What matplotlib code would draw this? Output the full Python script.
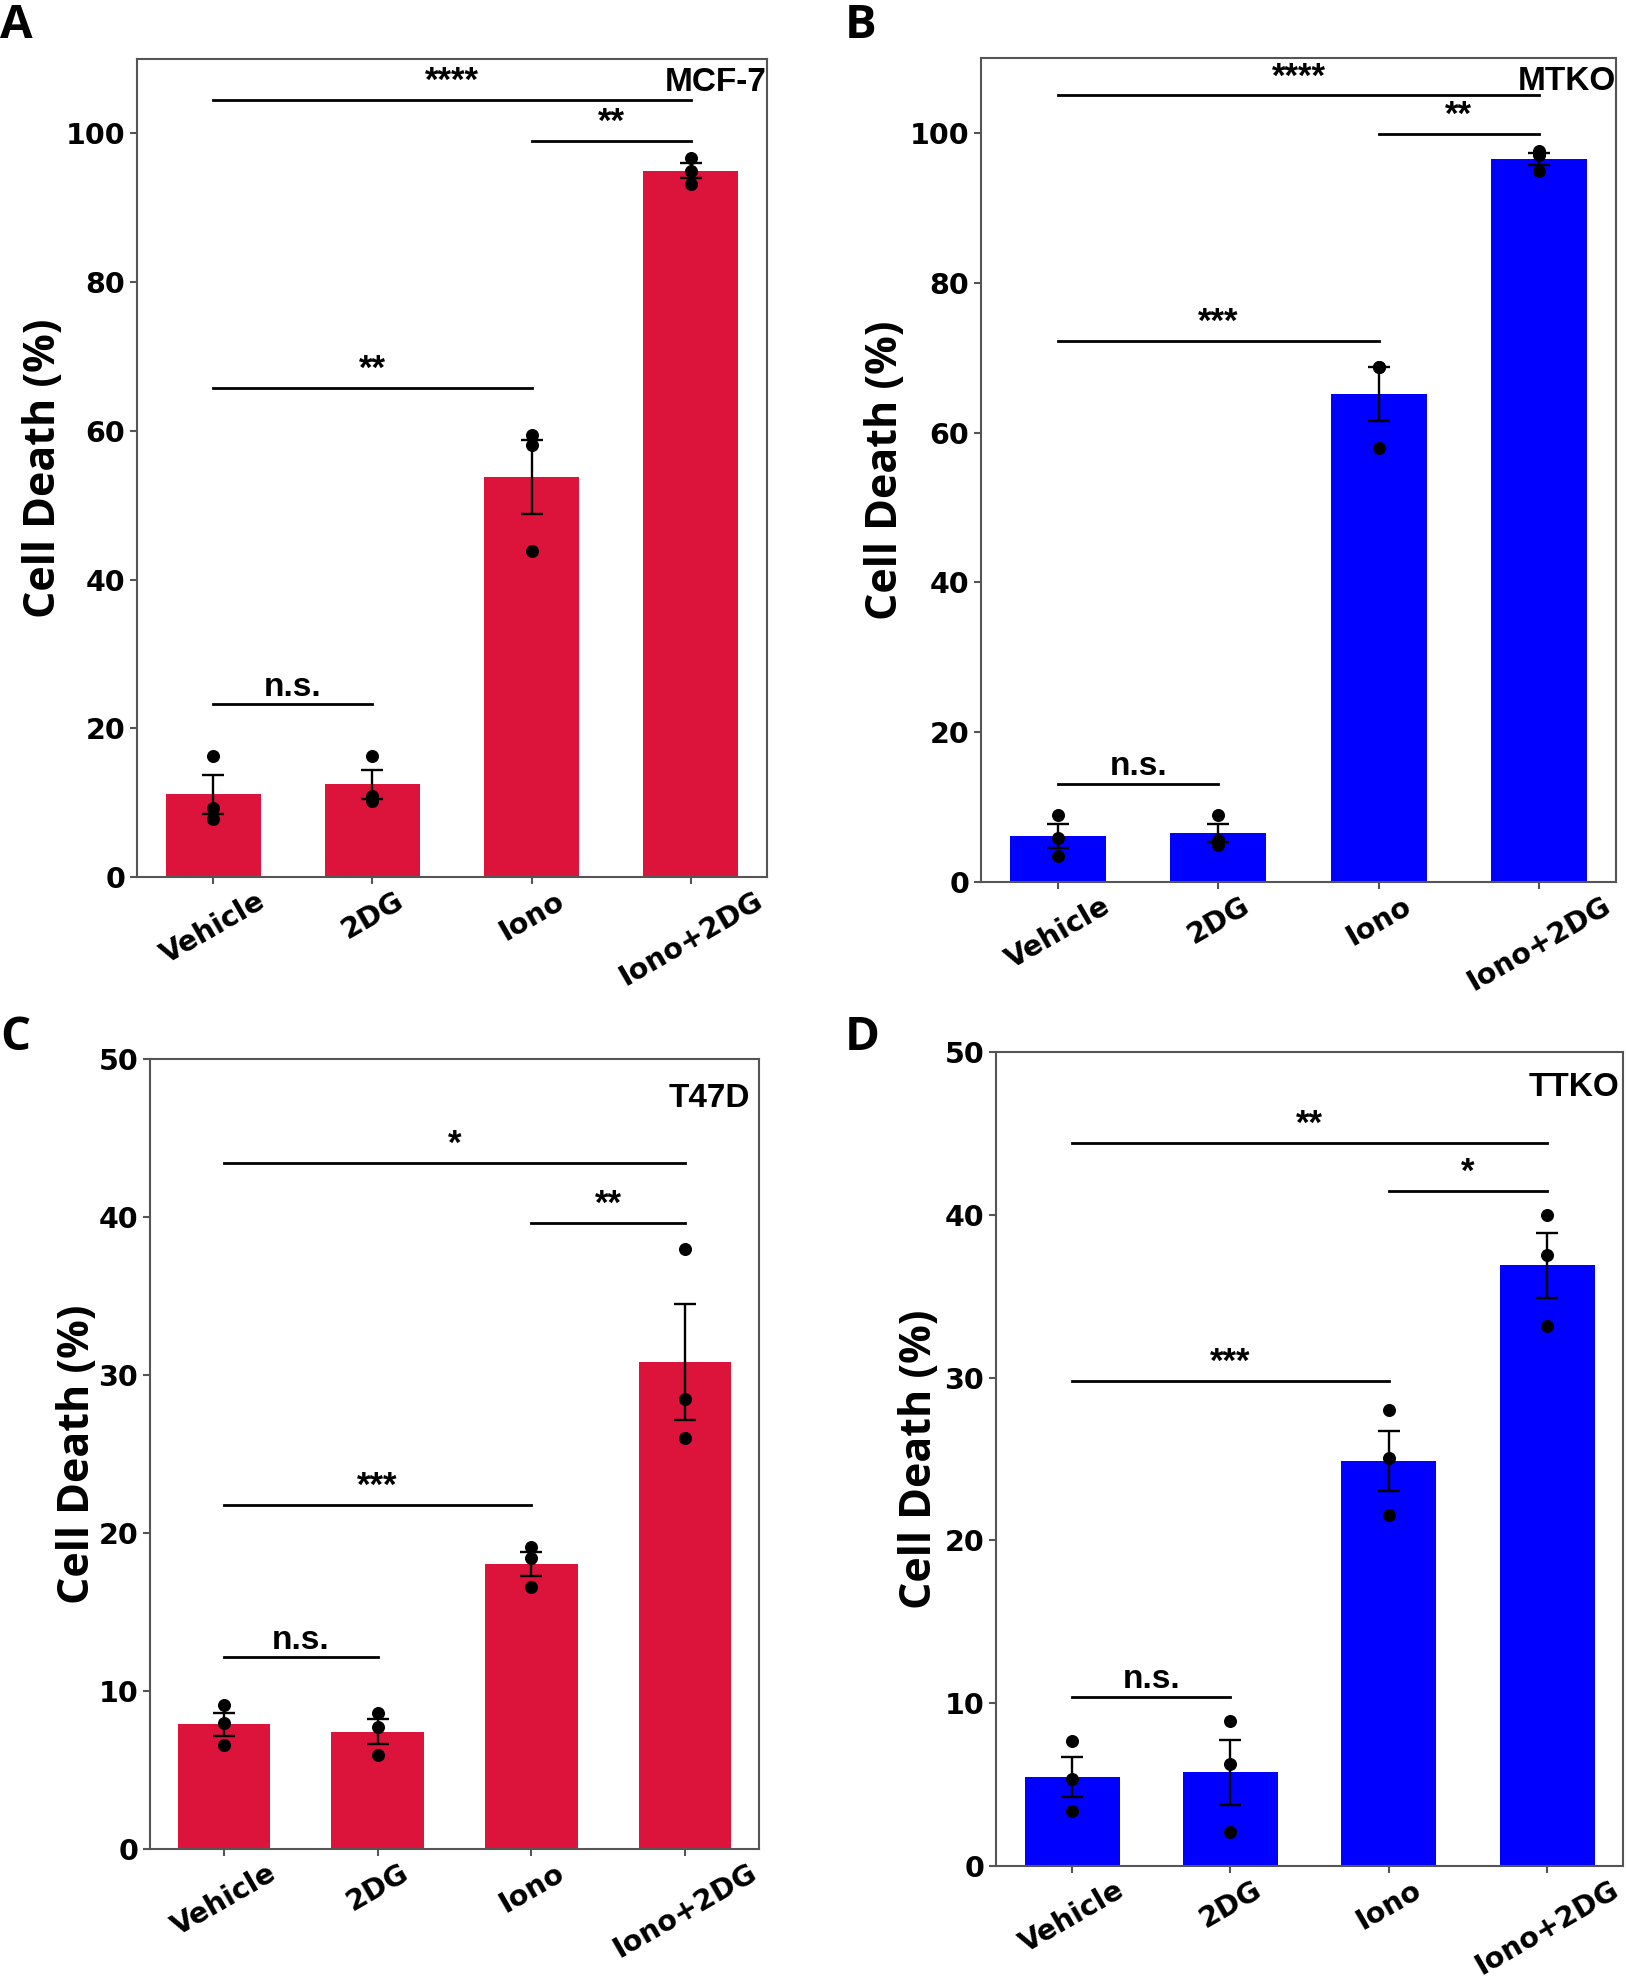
import matplotlib
matplotlib.use('Agg')
import matplotlib.pyplot as plt
import numpy as np

# ---------------- data ----------------
categories = ['Vehicle', '2DG', 'Iono', 'Iono+2DG']

mcf7_points = [[16.3, 9.3, 7.8], [16.3, 10.9, 10.2], [59.5, 58.1, 43.9], [96.7, 95.0, 93.2]]
mtko_points = [[9.0, 5.9, 3.5], [9.0, 5.6, 5.0], [68.8, 68.7, 57.9], [97.6, 97.0, 94.9]]
t47d_points = [[9.1, 8.0, 6.6], [8.6, 7.75, 5.95], [19.1, 18.4, 16.6], [38.0, 28.5, 26.0]]
ttko_points = [[7.66, 5.34, 3.4], [8.9, 6.27, 2.09], [27.98, 25.08, 21.56], [39.98, 37.54, 33.17]]

# significance brackets: (from group, to group, height, label)
mcf7_sig = [(0, 3, 104.5, '****'), (2, 3, 99.0, '**'), (0, 2, 65.8, '**'), (0, 1, 23.2, 'n.s.')]
mtko_sig = [(0, 3, 105.0, '****'), (2, 3, 99.8, '**'), (0, 2, 72.2, '***'), (0, 1, 13.1, 'n.s.')]
t47d_sig = [(0, 3, 43.4, '*'), (2, 3, 39.6, '**'), (0, 2, 21.8, '***'), (0, 1, 12.15, 'n.s.')]
ttko_sig = [(0, 3, 44.4, '**'), (2, 3, 41.45, '*'), (0, 2, 29.8, '***'), (0, 1, 10.4, 'n.s.')]

cell_lines = ['MCF-7', 'MTKO', 'T47D', 'TTKO']
panel_letters = ['A', 'B', 'C', 'D']
y_max = [110, 110, 50, 50]
y_ticks = [[0, 20, 40, 60, 80, 100], [0, 20, 40, 60, 80, 100],
           [0, 10, 20, 30, 40, 50], [0, 10, 20, 30, 40, 50]]
ylabel_text = 'Cell Death (%)'

# ---------------- style ----------------
RED = '#DC143C'
BLUE = '#0000FF'
colors = [RED, BLUE, RED, BLUE]
W, H = 1626, 1980

# axes boxes in pixels (left, right, top, bottom)
boxes = [(137, 767, 59, 877), (981, 1616, 58, 882),
         (150, 759, 1059, 1849), (996, 1623, 1052, 1866)]
ylabel_x_px = [44, 885, 78, 919]
letter_pos_px = [(0, 38), (845, 38), (0, 1050), (845, 1050)]
label_pos = [(1.0, 0.99), (1.0, 0.99), (0.985, 0.97), (0.995, 0.975)]

fig = plt.figure(figsize=(W / 100, H / 100), dpi=100)

datasets = [mcf7_points, mtko_points, t47d_points, ttko_points]
sigs = [mcf7_sig, mtko_sig, t47d_sig, ttko_sig]

for k in range(4):
    l, r, t, b = boxes[k]
    ax = fig.add_axes([l / W, 1 - b / H, (r - l) / W, (b - t) / H])
    pts = [np.array(p) for p in datasets[k]]
    means = [p.mean() for p in pts]
    sems = [p.std(ddof=1) / np.sqrt(len(p)) for p in pts]
    x = np.arange(len(categories))
    ax.bar(x, means, width=0.6, color=colors[k], zorder=1)
    ax.errorbar(x, means, yerr=sems, fmt='none', ecolor='black', elinewidth=1.7,
                capsize=8, capthick=1.7, zorder=2)
    for i, p in enumerate(pts):
        ax.scatter(np.full(len(p), x[i]), p, s=70, color='black', zorder=3)
    for (i, j, yv, lab) in sigs[k]:
        ax.plot([x[i], x[j]], [yv, yv], color='black', lw=2, zorder=2)
        is_ns = lab == 'n.s.'
        ax.annotate(lab, xy=((x[i] + x[j]) / 2, yv), xytext=(0, 1 if is_ns else 1.5),
                    textcoords='offset points', ha='center', va='bottom',
                    fontsize=24 if is_ns else 25, fontweight='bold', family='Liberation Sans')
    ax.set_ylim(0, y_max[k])
    ax.set_yticks(y_ticks[k])
    ax.set_xticks(x)
    ax.set_xticklabels(categories, rotation=30, ha='center')
    for lab in ax.get_xticklabels() + ax.get_yticklabels():
        lab.set_fontsize(20.5)
        lab.set_fontweight('bold')
        lab.set_family('DejaVu Sans')
    ax.tick_params(length=5, width=1.5, color='#555555')
    ax.tick_params(axis='x', pad=2)
    for s in ax.spines.values():
        s.set_color('#555555')
        s.set_linewidth(1.5)
    ax.set_ylabel(ylabel_text, fontsize=31, fontweight='bold', family='Open Sans', va='center')
    ax.yaxis.set_label_coords((ylabel_x_px[k] - l) / (r - l), 0.5)
    ax.text(label_pos[k][0], label_pos[k][1], cell_lines[k], transform=ax.transAxes,
            ha='right', va='top', fontsize=24, fontweight='bold', family='Liberation Sans')
    lx, ly = letter_pos_px[k]
    fig.text(lx / W, 1 - ly / H, panel_letters[k], ha='left', va='baseline', fontsize=34,
             fontweight='bold', family='Open Sans')

fig.savefig('out.png', dpi=100)
